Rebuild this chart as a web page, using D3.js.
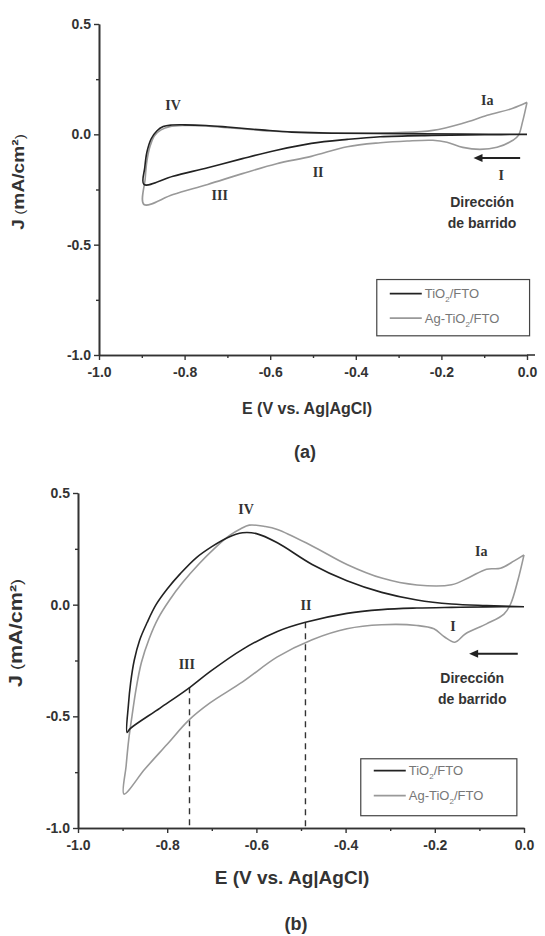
<!DOCTYPE html>
<html>
<head>
<meta charset="utf-8">
<script src="https://cdn.jsdelivr.net/npm/d3@7"></script>
<style>
  body { margin: 0; background: #fff; }
</style>
</head>
<body>
<script>
// tick values shared by both panels
const xTicks = [-1.0, -0.8, -0.6, -0.4, -0.2, 0.0];
const xMinor = [-0.9, -0.7, -0.5, -0.3, -0.1];
const yTicks = [0.5, 0.0, -0.5, -1.0];
const yMinor = [0.25, -0.25, -0.75];

// (a) voltammograms, [E, J], cathodic branch first
const topTiO2 = [
    [0.0, 0.0], [-0.1, -0.002], [-0.222, -0.005], [-0.343, -0.011], [-0.42, -0.023],
    [-0.504, -0.041], [-0.585, -0.072], [-0.665, -0.11], [-0.746, -0.151], [-0.827, -0.19],
    [-0.895, -0.227],
    [-0.893, -0.15], [-0.888, -0.08], [-0.878, -0.02], [-0.865, 0.015], [-0.85, 0.035],
    [-0.83, 0.042], [-0.80, 0.043], [-0.75, 0.040], [-0.70, 0.033], [-0.62, 0.02],
    [-0.55, 0.01], [-0.45, 0.005], [-0.3, 0.003], [-0.15, 0.001], [0.0, 0.0]
];
const topAg = [
    [0.0, 0.145], [-0.01, 0.06], [-0.02, -0.005], [-0.033, -0.027], [-0.07, -0.059],
    [-0.11, -0.068], [-0.15, -0.059], [-0.187, -0.036], [-0.22, -0.027], [-0.28, -0.03],
    [-0.343, -0.038], [-0.42, -0.056], [-0.504, -0.10], [-0.585, -0.133], [-0.665, -0.178],
    [-0.746, -0.227], [-0.827, -0.273], [-0.895, -0.318],
    [-0.892, -0.2], [-0.888, -0.12], [-0.88, -0.05], [-0.87, -0.005], [-0.855, 0.02],
    [-0.835, 0.035], [-0.80, 0.04], [-0.75, 0.038], [-0.70, 0.03], [-0.6, 0.015],
    [-0.5, 0.008], [-0.4, 0.006], [-0.3, 0.008], [-0.22, 0.018], [-0.15, 0.05],
    [-0.093, 0.086], [-0.033, 0.118], [0.0, 0.145]
];

// (b)
const botTiO2 = [
    [0.0, -0.009], [-0.084, -0.01], [-0.1625, -0.012], [-0.24, -0.015], [-0.319, -0.022],
    [-0.397, -0.039], [-0.49, -0.079], [-0.553, -0.12], [-0.631, -0.2], [-0.704, -0.3],
    [-0.749, -0.37], [-0.816, -0.463], [-0.883, -0.555], [-0.89, -0.572],
    [-0.887, -0.45], [-0.882, -0.35], [-0.874, -0.25], [-0.862, -0.16], [-0.845, -0.08],
    [-0.825, 0.0], [-0.80, 0.07], [-0.77, 0.14], [-0.735, 0.21], [-0.70, 0.26],
    [-0.665, 0.30], [-0.631, 0.322], [-0.60, 0.318], [-0.553, 0.277], [-0.475, 0.18],
    [-0.397, 0.107], [-0.319, 0.055], [-0.24, 0.021], [-0.1625, 0.003], [-0.084, -0.004],
    [0.0, -0.009]
];
const botAg = [
    [0.0, 0.223], [-0.014, 0.107], [-0.03, 0.003], [-0.045, -0.042], [-0.084, -0.086],
    [-0.131, -0.13], [-0.155, -0.168], [-0.178, -0.145], [-0.202, -0.108], [-0.24, -0.093],
    [-0.319, -0.09], [-0.397, -0.108], [-0.475, -0.157], [-0.553, -0.234], [-0.631, -0.346],
    [-0.704, -0.44], [-0.752, -0.518], [-0.80, -0.625], [-0.85, -0.736], [-0.897, -0.848],
    [-0.892, -0.72], [-0.886, -0.6], [-0.879, -0.5], [-0.87, -0.38], [-0.858, -0.26],
    [-0.84, -0.15], [-0.82, -0.06], [-0.795, 0.02], [-0.765, 0.10], [-0.73, 0.18],
    [-0.695, 0.25], [-0.66, 0.31], [-0.635, 0.34], [-0.616, 0.356], [-0.58, 0.35],
    [-0.553, 0.337], [-0.475, 0.263], [-0.397, 0.18], [-0.319, 0.119], [-0.24, 0.088],
    [-0.1625, 0.089], [-0.123, 0.122], [-0.084, 0.159], [-0.053, 0.163], [-0.022, 0.196],
    [0.0, 0.223]
];

// dashed guides in (b): [E, J top]
const botGuides = [[-0.75, -0.37], [-0.49, -0.079]];

// roman-numeral marks [text, E, J]
const topMarks = [['IV', -0.827, 0.134], ['Ia', -0.093, 0.157], ['II', -0.488, -0.17],
    ['III', -0.718, -0.277], ['I', -0.06, -0.186]];
const botMarks = [['IV', -0.623, 0.426], ['Ia', -0.096, 0.24], ['II', -0.489, -0.004],
    ['III', -0.756, -0.264], ['I', -0.159, -0.096]];

const seriesNames = ['TiO2/FTO', 'Ag-TiO2/FTO'];
const colors = ['#222', '#999'];

const SANS = '"Liberation Sans", Arial, sans-serif';
const SERIF = '"Liberation Serif", "Times New Roman", serif';

const svg = d3.select('body').append('svg')
    .attr('width', 545)
    .attr('height', 936)
    .style('font-family', SANS);

const fmt = d => d.toFixed(1);

function drawPanel(p) {
    const x = d3.scaleLinear().domain([-1, 0]).range(p.xr);
    const y = d3.scaleLinear().domain([-1, 0.5]).range(p.yr);
    const g = svg.append('g');

    // axes
    const xAxis = g.append('g').attr('transform', `translate(0,${p.yr[0]})`)
        .call(d3.axisBottom(x).tickValues(xTicks).tickFormat(fmt).tickSize(5).tickSizeOuter(0));
    g.append('g').attr('transform', `translate(0,${p.yr[0]})`)
        .call(d3.axisBottom(x).tickValues(xMinor).tickFormat('').tickSize(3).tickSizeOuter(0));
    g.append('g').attr('transform', `translate(${p.xr[0]},0)`)
        .call(d3.axisLeft(y).tickValues(yTicks).tickFormat(fmt).tickSize(5).tickSizeOuter(0));
    g.append('g').attr('transform', `translate(${p.xr[0]},0)`)
        .call(d3.axisLeft(y).tickValues(yMinor).tickFormat('').tickSize(3).tickSizeOuter(0));
    g.selectAll('.domain').attr('stroke', '#333').attr('stroke-width', 1.6);
    g.selectAll('.tick line').attr('stroke', '#333').attr('stroke-width', 1.4);
    g.selectAll('.tick text')
        .attr('font-size', 14).attr('font-weight', 'bold').attr('fill', '#333')
        .attr('font-family', SANS);
    xAxis.selectAll('.tick text').attr('dy', '1.0em');
    if (p.xExtra) {
        g.append('line')
            .attr('x1', p.xr[1]).attr('x2', p.xr[1] + p.xExtra)
            .attr('y1', p.yr[0]).attr('y2', p.yr[0])
            .attr('stroke', '#333').attr('stroke-width', 1.6);
    }

    // dashed guides
    g.selectAll('line.guide').data(p.guides || []).enter().append('line')
        .attr('class', 'guide')
        .attr('x1', d => x(d[0])).attr('x2', d => x(d[0]))
        .attr('y1', d => y(d[1])).attr('y2', y(-1))
        .attr('stroke', '#333').attr('stroke-width', 1.4)
        .attr('stroke-dasharray', '6,5');

    // curves
    const line = d3.line()
        .x(d => x(d[0])).y(d => y(d[1]))
        .curve(d3.curveCatmullRom.alpha(0.5));
    [p.ag, p.tio2].forEach((s, i) => {
        g.append('path').datum(s)
            .attr('d', line)
            .attr('fill', 'none')
            .attr('stroke', i === 0 ? colors[1] : colors[0])
            .attr('stroke-width', 1.6)
            .attr('stroke-linejoin', 'round');
    });

    // roman numerals
    g.selectAll('text.mark').data(p.marks).enter().append('text')
        .attr('class', 'mark')
        .attr('x', d => x(d[1])).attr('y', d => y(d[2]))
        .attr('text-anchor', 'middle').attr('dy', '0.35em')
        .style('font-family', SERIF)
        .attr('font-weight', 'bold').attr('font-size', 14).attr('fill', '#333')
        .text(d => d[0]);

    // sweep direction arrow + caption
    const ay = y(p.arrow[2]);
    g.append('line')
        .attr('x1', x(p.arrow[0])).attr('x2', x(p.arrow[1]) + 6)
        .attr('y1', ay).attr('y2', ay)
        .attr('stroke', '#222').attr('stroke-width', 2);
    g.append('path')
        .attr('d', `M${x(p.arrow[1])},${ay} l9,-4 l0,8 z`)
        .attr('fill', '#222');
    const cap = g.append('text')
        .attr('x', x(p.caption[0])).attr('y', y(p.caption[1]))
        .attr('text-anchor', 'middle')
        .attr('font-size', 14).attr('font-weight', 'bold').attr('fill', '#333');
    cap.append('tspan').attr('x', x(p.caption[0])).text('Dirección');
    cap.append('tspan').attr('x', x(p.caption[0])).attr('dy', 21).text('de barrido');

    // legend
    const lg = p.legend;
    g.append('rect')
        .attr('x', x(lg.e0)).attr('y', y(lg.j0))
        .attr('width', x(lg.e1) - x(lg.e0)).attr('height', y(lg.j1) - y(lg.j0))
        .attr('fill', 'none').attr('stroke', '#444').attr('stroke-width', 1.2);
    seriesNames.forEach((name, i) => {
        const ly = y(lg.rows[i]);
        const lx = x(lg.e0) + 13;
        g.append('line')
            .attr('x1', lx).attr('x2', lx + 32)
            .attr('y1', ly).attr('y2', ly)
            .attr('stroke', colors[i]).attr('stroke-width', 1.8);
        const t = g.append('text')
            .attr('x', lx + 35).attr('y', ly).attr('dy', '0.35em')
            .attr('font-size', 13).attr('fill', '#777');
        const parts = name.split('2');
        t.append('tspan').text(parts[0]);
        t.append('tspan').attr('font-size', 8).attr('dy', 4).text('2');
        t.append('tspan').attr('dy', -4).text(parts[1]);
    });

    // axis titles
    const yl = g.append('text')
        .attr('transform', `translate(${p.ylab[0]},${p.ylab[1]}) rotate(-90) scale(1.2,1)`)
        .attr('text-anchor', 'middle')
        .attr('font-size', p.ylabSize).attr('fill', '#333');
    yl.append('tspan').attr('font-weight', 'bold').text('J');
    yl.append('tspan').attr('font-size', p.ylabSize - 3).text(' (');
    yl.append('tspan').attr('font-weight', 'bold').text('mA/cm²');
    yl.append('tspan').attr('font-size', p.ylabSize - 3).text(')');

    g.append('text')
        .attr('x', p.xlab[0]).attr('y', p.xlab[1])
        .attr('text-anchor', 'middle')
        .attr('font-size', p.xlabSize).attr('font-weight', 'bold').attr('fill', '#333')
        .text('E (V vs. Ag|AgCl)');

    g.append('text')
        .attr('x', p.tag[0]).attr('y', p.tag[1])
        .attr('text-anchor', 'middle')
        .attr('font-size', 18).attr('font-weight', 'bold').attr('fill', '#333')
        .text(p.tagText);
}

drawPanel({
    xr: [99, 527], yr: [355, 24], xExtra: 8,
    tio2: topTiO2, ag: topAg, marks: topMarks,
    arrow: [-0.016, -0.125, -0.107], caption: [-0.105, -0.33],
    legend: { e0: -0.351, e1: 0.006, j0: -0.658, j1: -0.913, rows: [-0.722, -0.833] },
    ylab: [24, 182], ylabSize: 16, xlab: [307, 414], xlabSize: 16,
    tag: [305, 458], tagText: '(a)'
});

drawPanel({
    xr: [78, 524], yr: [828, 493],
    tio2: botTiO2, ag: botAg, marks: botMarks, guides: botGuides,
    arrow: [-0.014, -0.123, -0.22], caption: [-0.116, -0.35],
    legend: { e0: -0.366, e1: -0.016, j0: -0.69, j1: -0.945, rows: [-0.743, -0.855] },
    ylab: [22, 633], ylabSize: 18, xlab: [292, 884], xlabSize: 19,
    tag: [296, 930], tagText: '(b)'
});
</script>
</body>
</html>
